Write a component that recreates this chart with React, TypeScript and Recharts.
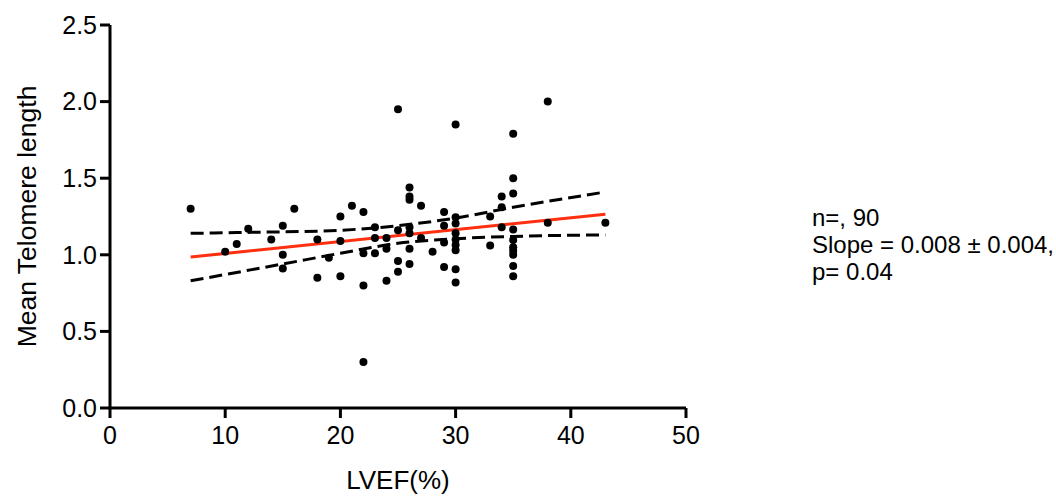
import React from "react";
import { ComposedChart, Scatter, Line, XAxis, YAxis } from "recharts";

// LVEF (%) and mean telomere length, one entry per visible point
const lvef = [
  7, 10, 11, 12, 14, 15, 15, 15, 16, 18, 18, 19, 20, 20, 20, 21,
  22, 22, 22, 22, 23, 23, 23, 24, 24, 24, 25, 25, 25, 25,
  26, 26, 26, 26, 26, 26, 26, 27, 27, 28, 29, 29, 29, 29,
  30, 30, 30, 30, 30, 30, 30, 30, 30, 33, 33, 34, 34, 34,
  35, 35, 35, 35, 35, 35, 35, 35, 35, 35, 38, 38, 43,
];
const telomere = [
  1.30, 1.02, 1.07, 1.17, 1.10, 1.19, 1.00, 0.91, 1.30, 1.10, 0.85, 0.98, 1.25, 1.09, 0.86, 1.32,
  1.28, 1.01, 0.80, 0.30, 1.18, 1.11, 1.01, 1.11, 1.04, 0.83, 1.95, 1.16, 0.96, 0.89,
  1.44, 1.38, 1.36, 1.18, 1.14, 1.04, 0.94, 1.32, 1.11, 1.02, 1.28, 1.19, 1.08, 0.92,
  1.85, 1.245, 1.205, 1.14, 1.10, 1.064, 1.03, 0.905, 0.82, 1.25, 1.06, 1.38, 1.31, 1.18,
  1.79, 1.50, 1.40, 1.165, 1.097, 1.05, 1.027, 1.00, 0.927, 0.86, 2.00, 1.21, 1.21,
];

// regression line and its 95% confidence band
const fitX = [7, 43];
const fitY = [0.985, 1.265];
const bandX = [7, 11, 15, 20, 25, 30, 35, 43];
const upperBand = [1.14, 1.145, 1.15, 1.16, 1.19, 1.24, 1.31, 1.41];
const lowerBand = [0.83, 0.885, 0.94, 1.01, 1.075, 1.105, 1.12, 1.13];

const xTicks = [0, 10, 20, 30, 40, 50];
const yTicks = [0, 0.5, 1.0, 1.5, 2.0, 2.5];
const stats = ["n=, 90", "Slope = 0.008 ± 0.004,", "p= 0.04"];

const points = lvef.map((x, i) => ({ x, y: telomere[i] }));
const fitLine = fitX.map((x, i) => ({ x, y: fitY[i] }));
const upper = bandX.map((x, i) => ({ x, y: upperBand[i] }));
const lower = bandX.map((x, i) => ({ x, y: lowerBand[i] }));

const font = "'Liberation Sans', Arial, sans-serif";
const axisStroke = { stroke: "#000", strokeWidth: 3 };
const tickStyle = { fontSize: 25, fill: "#000", fontFamily: font };

function Dot(props: { cx?: number; cy?: number }) {
  return <circle cx={props.cx} cy={props.cy} r={4} fill="#000"/>;
}

export default function App() {
  return <div style={{ position: "absolute", left: 0, top: 0, width: 1056, height: 497, background: "#fff" }}>
    <ComposedChart width={1056} height={497} margin={{ top: 25, right: 370, bottom: 0, left: 0 }}>
      <XAxis type="number" dataKey="x" domain={[0, 50]} ticks={xTicks} height={89}
        axisLine={axisStroke} tickLine={axisStroke} tickSize={10} tickMargin={8} tick={tickStyle}
        label={{ value: "LVEF(%)", position: "insideBottom", offset: 8, fontSize: 26, fill: "#000", fontFamily: font }}/>
      <YAxis type="number" dataKey="y" domain={[0, 2.5]} ticks={yTicks} width={110}
        tickFormatter={(v: number) => v.toFixed(1)}
        axisLine={axisStroke} tickLine={axisStroke} tickSize={10} tickMargin={3} tick={tickStyle}
        label={({ viewBox }: { viewBox: { x: number; y: number; height: number } }) =>
          <text x={viewBox.x + 27} y={viewBox.y + viewBox.height / 2} transform={`rotate(-90, ${viewBox.x + 27}, ${viewBox.y + viewBox.height / 2})`}
            textAnchor="middle" dominantBaseline="central" fontSize={26.5} fill="#000" fontFamily={font}>Mean Telomere length</text>}/>
      <Line data={upper} dataKey="y" type="monotone" stroke="#000" strokeWidth={3} strokeDasharray="13 6" dot={false} isAnimationActive={false}/>
      <Line data={lower} dataKey="y" type="monotone" stroke="#000" strokeWidth={3} strokeDasharray="13 6" dot={false} isAnimationActive={false}/>
      <Scatter data={points} fill="#000" shape={<Dot/>} isAnimationActive={false}/>
      <Line data={fitLine} dataKey="y" type="linear" stroke="#ff2f0f" strokeWidth={3} dot={false} isAnimationActive={false}/>
    </ComposedChart>
    <div style={{ position: "absolute", left: 812, top: 204, fontFamily: font, fontSize: 24, lineHeight: "27px", color: "#000" }}>
      {stats.map((s) => <div key={s}>{s}</div>)}
    </div>
  </div>;
}
